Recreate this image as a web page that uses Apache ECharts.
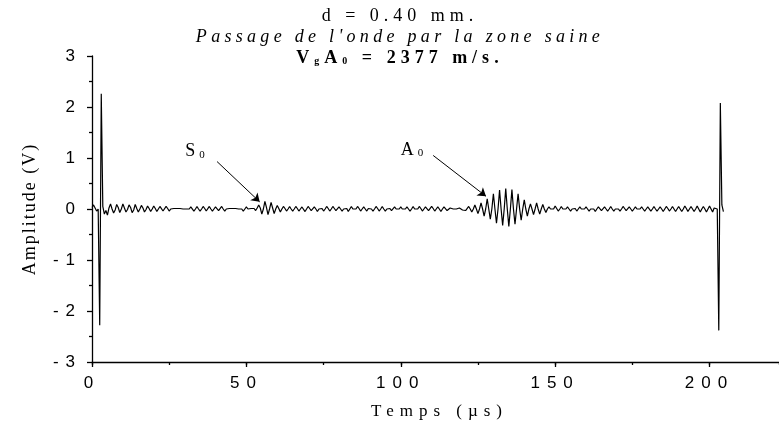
<!DOCTYPE html>
<html>
<head>
<meta charset="utf-8">
<script src="https://cdn.jsdelivr.net/npm/echarts@6/dist/echarts.min.js"></script>
<style>
html, body { margin: 0; padding: 0; background: #ffffff; }
#chart { width: 779px; height: 428px; }
</style>
</head>
<body>
<div id="chart"></div>
<script>
// ---------------- DATA ----------------
// Signal sampled every SAMPLE_STEP_US microseconds, starting at t = 0 µs
const SAMPLE_STEP_US = 0.5;
const amplitudeV = [
  0.03, 0.08, 0.02, -0.04, 0.00, -2.28, 2.26, 0.05, -0.10, -0.03,
  -0.12, 0.02, 0.10, 0.00, -0.08, -0.02, 0.09, 0.03, -0.07, 0.00,
  0.10, 0.02, -0.06, -0.01, 0.08, 0.03, -0.07, -0.02, 0.09, 0.01,
  -0.06, 0.00, 0.07, 0.02, -0.06, -0.01, 0.06, 0.01, -0.05, 0.00,
  0.06, 0.01, -0.05, 0.00, 0.05, 0.02, -0.04, -0.01, 0.05, 0.01,
  -0.04, 0.00, 0.03, 0.01, 0.00, 0.01, 0.00, 0.01, 0.00, 0.00,
  0.01, 0.00, -0.03, 0.00, 0.04, 0.01, -0.04, 0.00, 0.05, 0.00,
  -0.04, 0.00, 0.05, 0.01, -0.04, -0.01, 0.05, 0.00, -0.04, 0.00,
  0.04, 0.01, -0.03, 0.00, 0.05, 0.00, -0.04, 0.00, 0.03, 0.01,
  0.00, 0.01, 0.00, 0.01, 0.00, 0.00, 0.03, 0.00, -0.04, 0.00,
  0.04, 0.00, -0.03, 0.01, 0.03, 0.01, -0.03, 0.02, 0.08, 0.02,
  -0.10, 0.00, 0.15, 0.03, -0.11, 0.00, 0.13, 0.02, -0.09, 0.00,
  0.07, 0.01, -0.06, 0.00, 0.05, 0.01, -0.04, 0.00, 0.05, 0.00,
  -0.04, 0.00, 0.05, 0.01, -0.04, 0.00, 0.04, 0.01, -0.05, 0.00,
  0.05, 0.01, -0.03, 0.00, 0.04, 0.00, -0.05, 0.00, 0.03, 0.01,
  -0.04, 0.00, 0.05, 0.01, -0.04, 0.00, 0.05, 0.01, -0.03, 0.00,
  0.04, 0.00, -0.04, 0.00, 0.03, 0.01, -0.05, 0.00, 0.05, 0.00,
  -0.03, 0.00, 0.05, 0.01, -0.04, 0.00, 0.04, 0.00, -0.04, 0.01,
  0.03, 0.00, -0.04, 0.00, 0.05, 0.01, -0.04, 0.00, 0.05, 0.00,
  -0.04, 0.00, 0.03, 0.01, -0.03, 0.00, 0.04, 0.00, -0.03, 0.00,
  0.04, 0.00, -0.03, 0.00, 0.04, 0.00, -0.04, 0.00, 0.05, 0.00,
  -0.03, 0.00, 0.05, 0.01, -0.04, 0.00, 0.04, 0.01, -0.03, 0.00,
  0.05, 0.01, -0.04, 0.00, 0.04, 0.00, -0.05, 0.00, 0.04, 0.01,
  -0.03, 0.00, 0.02, 0.00, 0.00, 0.01, 0.00, 0.00, 0.02, 0.00,
  -0.02, 0.00, -0.03, 0.00, 0.05, 0.00, -0.06, 0.00, 0.08, 0.00,
  -0.09, 0.00, 0.12, 0.00, -0.14, 0.00, 0.20, 0.00, -0.20, 0.00,
  0.30, 0.00, -0.28, 0.00, 0.37, 0.00, -0.32, 0.00, 0.40, 0.00,
  -0.34, 0.00, 0.38, 0.00, -0.30, 0.00, 0.30, 0.00, -0.22, 0.00,
  0.18, 0.00, -0.14, 0.00, 0.10, 0.00, -0.11, 0.00, 0.12, 0.00,
  -0.10, 0.00, 0.09, 0.00, -0.07, 0.00, 0.04, 0.00, -0.03, 0.00,
  0.06, 0.01, -0.04, 0.00, 0.05, 0.00, -0.03, 0.00, 0.04, 0.00,
  -0.04, 0.00, 0.03, 0.01, -0.04, 0.00, 0.04, 0.00, -0.03, 0.00,
  0.04, 0.00, -0.04, 0.00, 0.03, 0.00, -0.05, 0.00, 0.04, 0.01,
  -0.03, 0.00, 0.04, 0.00, -0.04, 0.00, 0.05, 0.00, -0.04, 0.00,
  0.03, 0.00, -0.04, 0.00, 0.05, 0.01, -0.03, 0.00, 0.04, 0.00,
  -0.04, 0.00, 0.04, 0.00, -0.03, 0.00, 0.04, 0.00, -0.04, 0.00,
  0.04, 0.01, -0.04, 0.00, 0.05, 0.00, -0.04, 0.00, 0.04, 0.00,
  -0.05, 0.00, 0.05, 0.01, -0.04, 0.00, 0.05, 0.00, -0.05, 0.00,
  0.05, 0.00, -0.05, 0.00, 0.06, 0.01, -0.05, 0.00, 0.05, 0.00,
  -0.05, 0.00, 0.06, 0.00, -0.06, 0.00, 0.05, 0.00, -0.06, 0.00,
  0.06, 0.00, -0.06, 0.02, 0.05, 0.00, -2.38, 2.08, 0.08, -0.05
];

// Axis ticks
const xTickLabels = [0, 50, 100, 150, 200];
const yTickLabels = [-3, -2, -1, 0, 1, 2, 3];
const X_MIN = 0, X_MAX = 222.5, X_MAJOR = 50, X_MINOR = 25;
const Y_MIN = -3, Y_MAX = 3, Y_MAJOR = 1;

// Texts
const titleLine1 = 'd = 0.40 mm.';
const titleLine2 = "Passage de l'onde par la zone saine";
const xAxisName = 'Temps (µs)';
const yAxisName = 'Amplitude (V)';

// Annotations (data coordinates: [time µs, amplitude V])
const s0Label = ['S', '0'];
const s0LabelAt = [34.0, 1.13];
const s0ArrowFrom = [40.5, 0.93];
const s0ArrowTo = [54.3, 0.14];
const a0Label = ['A', '0'];
const a0LabelAt = [104.3, 1.16];
const a0ArrowFrom = [110.5, 1.05];
const a0ArrowTo = [127.6, 0.25];

// ---------------- letter spacing support (marker family "zspA_B" => A.B px) ----------------
(function () {
  const P = CanvasRenderingContext2D.prototype;
  const re = /zsp(\d+)_(\d+)/;
  function applySpacing(ctx) {
    if (!('letterSpacing' in ctx)) return;
    const m = re.exec(ctx.font);
    const v = m ? (m[1] + '.' + m[2] + 'px') : '0px';
    if (ctx.letterSpacing !== v) ctx.letterSpacing = v;
  }
  ['fillText', 'strokeText', 'measureText'].forEach(function (n) {
    const orig = P[n];
    P[n] = function () { applySpacing(this); return orig.apply(this, arguments); };
  });
})();

const F_TICK = "'Liberation Sans', Arial, zsp7_0";
const F_T1 = "'Liberation Serif', 'Times New Roman', zsp5_0";
const F_T2 = "'Liberation Serif', 'Times New Roman', zsp4_3";
const F_T3 = "'Liberation Serif', 'Times New Roman', zsp5_0";
const F_XNAME = "'Liberation Serif', 'Times New Roman', zsp6_0";
const F_YNAME = "'Liberation Serif', 'Times New Roman', zsp2_0";
const F_ANN = "'Liberation Serif', 'Times New Roman', zsp4_0";

// ---------------- build ----------------
const seriesData = amplitudeV.map(function (v, i) { return [i * SAMPLE_STEP_US, v]; });

const subRich = {
  m: { fontFamily: F_ANN, fontSize: 18, color: '#000', lineHeight: 22, verticalAlign: 'top' },
  s: { fontFamily: F_ANN, fontSize: 11, color: '#000', lineHeight: 22, verticalAlign: 'bottom' }
};

const axisLineStyle = { color: '#000', width: 1.3 };

const chart = echarts.init(document.getElementById('chart'), null, { renderer: 'canvas' });
const option = {
  animation: false,
  backgroundColor: '#ffffff',
  title: [
    {
      text: titleLine1, left: 395, top: 0, textAlign: 'center',
      textStyle: { fontFamily: F_T1, fontSize: 18, fontWeight: 'normal', color: '#000' }
    },
    {
      text: titleLine2, left: 395, top: 21, textAlign: 'center',
      textStyle: { fontFamily: F_T2, fontSize: 18, fontStyle: 'italic', fontWeight: 'normal', color: '#000' }
    },
    {
      text: '{m|V}{s|g}{m|A}{s|0}{m| = 2377 m/s.}', left: 395, top: 42, textAlign: 'center',
      textStyle: {
        rich: {
          m: { fontFamily: F_T3, fontSize: 18, fontWeight: 'bold', color: '#000', lineHeight: 22, verticalAlign: 'top' },
          s: { fontFamily: F_T3, fontSize: 10, fontWeight: 'bold', color: '#000', lineHeight: 22, verticalAlign: 'bottom' }
        }
      }
    }
  ],
  grid: { left: 92, top: 56, width: 687.5, height: 307.5, containLabel: false },
  xAxis: [
    {
      type: 'value', min: X_MIN, max: X_MAX, interval: X_MAJOR, position: 'bottom',
      name: xAxisName, nameLocation: 'middle', nameGap: 38,
      nameTextStyle: { fontFamily: F_XNAME, fontSize: 17, color: '#000', padding: [0, 0, 0, 8] },
      axisLine: { show: true, onZero: false, lineStyle: axisLineStyle },
      axisTick: { show: true, inside: false, length: 5, lineStyle: axisLineStyle },
      minorTick: { show: false },
      splitLine: { show: false },
      axisLabel: {
        margin: 9, fontFamily: F_TICK, fontSize: 17, color: '#000', showMaxLabel: false,
        formatter: function (v) { return xTickLabels.indexOf(v) >= 0 ? String(v) : ''; }
      }
    },
    {
      type: 'value', min: X_MIN, max: X_MAX, interval: X_MINOR, position: 'bottom',
      axisLine: { show: false, onZero: false },
      axisTick: { show: true, inside: false, length: 3, lineStyle: axisLineStyle },
      axisLabel: { show: false },
      splitLine: { show: false }
    }
  ],
  yAxis: {
    type: 'value', min: Y_MIN, max: Y_MAX, interval: Y_MAJOR,
    name: yAxisName, nameLocation: 'middle', nameGap: 52,
    nameTextStyle: { fontFamily: F_YNAME, fontSize: 18, color: '#000' },
    axisLine: { show: true, onZero: false, lineStyle: axisLineStyle },
    axisTick: { show: true, inside: false, length: 5, lineStyle: axisLineStyle },
    minorTick: { show: true, splitNumber: 2, length: 3, lineStyle: axisLineStyle },
    splitLine: { show: false },
    axisLabel: {
      margin: 10, fontFamily: F_TICK, fontSize: 17, color: '#000',
      formatter: function (v) { return yTickLabels.indexOf(v) >= 0 ? String(v) : ''; }
    }
  },
  series: [{
    type: 'line',
    xAxisIndex: 0,
    data: seriesData,
    symbol: 'none',
    showSymbol: false,
    smooth: false,
    lineStyle: { color: '#000', width: 1.2 },
    markLine: {
      silent: true,
      symbol: ['none', 'arrow'],
      symbolSize: 8,
      lineStyle: { color: '#000', width: 1, type: 'solid' },
      label: { show: false },
      data: [
        [{ coord: s0ArrowFrom }, { coord: s0ArrowTo }],
        [{ coord: a0ArrowFrom }, { coord: a0ArrowTo }]
      ]
    },
    markPoint: {
      silent: true,
      symbol: 'circle',
      symbolSize: 1,
      itemStyle: { color: 'rgba(0,0,0,0)' },
      label: {
        show: true, position: 'inside',
        formatter: function (p) { return '{m|' + p.data.main + '}{s|' + p.data.sub + '}'; },
        rich: subRich
      },
      data: [
        { coord: s0LabelAt, main: s0Label[0], sub: s0Label[1] },
        { coord: a0LabelAt, main: a0Label[0], sub: a0Label[1] }
      ]
    }
  }]
};
chart.setOption(option);
</script>
</body>
</html>
